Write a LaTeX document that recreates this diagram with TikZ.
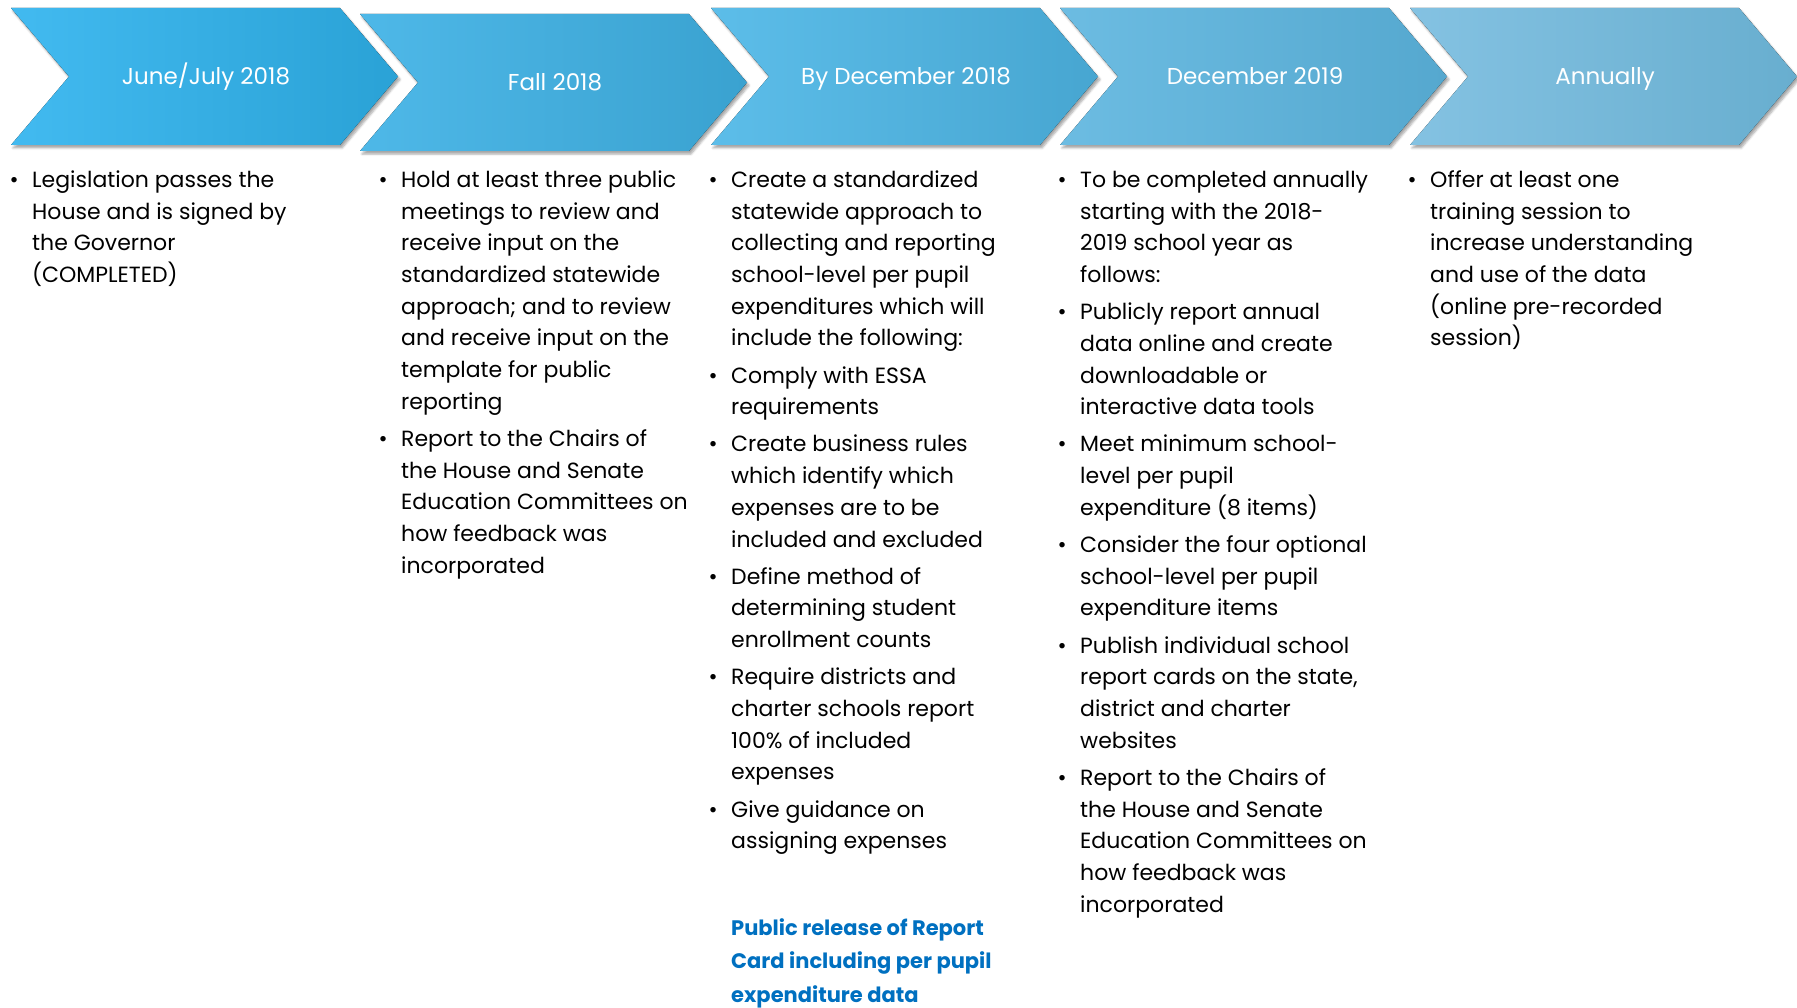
\documentclass[tikz,border=0pt]{standalone}
\usepackage{fontspec}
\setmainfont{Poppins}
\usetikzlibrary{shadows.blur}
\definecolor{chevAa}{HTML}{42BAF0}
\definecolor{chevAb}{HTML}{2AA2D6}
\definecolor{chevBa}{HTML}{4EB8E8}
\definecolor{chevBb}{HTML}{3AA2D0}
\definecolor{chevCa}{HTML}{5CBDE9}
\definecolor{chevCb}{HTML}{47A6D1}
\definecolor{chevDa}{HTML}{6CBCE2}
\definecolor{chevDb}{HTML}{55A8CF}
\definecolor{chevEa}{HTML}{84C2E2}
\definecolor{chevEb}{HTML}{68AECF}
\definecolor{releaseblue}{HTML}{0070C0}
\newcommand\bul{\makebox[36pt][c]{\textbullet}}

\begin{document}
\begin{tikzpicture}[x=1pt, y=-1pt,
  chev/.style={blur shadow={shadow xshift=2pt, shadow yshift=-3pt,
                            shadow blur steps=5, shadow opacity=35}},
  head/.style={text=white, inner sep=0pt, anchor=base, font=\fontsize{23}{26}\selectfont},
  col/.style={anchor=north west, inner sep=0pt, font=\fontsize{22}{31.7}\selectfont},
  release/.style={anchor=north west, inner sep=0pt, text=releaseblue,
                  font=\fontsize{21}{33.5}\selectfont\bfseries}]
\useasboundingbox (0,0) rectangle (1797,1008);

\foreach \x/\y/\lc/\rc/\nm/\txt in {11/8/chevAa/chevAb/june/{June/July 2018},
                                 360/14/chevBa/chevBb/fall/{Fall 2018},
                                 711/8/chevCa/chevCb/bydec/{By December 2018},
                                 1060/8/chevDa/chevDb/dec/{December 2019},
                                 1410/8/chevEa/chevEb/annual/{Annually}}
{
  \fill[chev, left color=\lc, right color=\rc]
    (\x,\y) -- ++(329,0) -- ++(58,68.5) -- ++(-58,68.5) -- ++(-329,0)
    -- ++(58,-68.5) -- cycle;
  \node[head] (\nm) at (\x+195,\y+77) {\txt};
}

\node[col] (c1) at (-4,165) {\begin{tabular}{@{}l@{}l@{}}
\bul & Legislation passes the\\
     & House and is signed by\\
     & the Governor\\
     & (COMPLETED)
\end{tabular}};

\node[col] (c2) at (365,165) {\begin{tabular}{@{}l@{}l@{}}
\bul & Hold at least three public\\
     & meetings to review and\\
     & receive input on the\\
     & standardized statewide\\
     & approach; and to review\\
     & and receive input on the\\
     & template for public\\
     & reporting\\[5.5pt]
\bul & Report to the Chairs of\\
     & the House and Senate\\
     & Education Committees on\\
     & how feedback was\\
     & incorporated
\end{tabular}};

\node[col] (c3) at (695,165) {\begin{tabular}{@{}l@{}l@{}}
\bul & Create a standardized\\
     & statewide approach to\\
     & collecting and reporting\\
     & school-level per pupil\\
     & expenditures which will\\
     & include the following:\\[5.5pt]
\bul & Comply with ESSA\\
     & requirements\\[5.5pt]
\bul & Create business rules\\
     & which identify which\\
     & expenses are to be\\
     & included and excluded\\[5.5pt]
\bul & Define method of\\
     & determining student\\
     & enrollment counts\\[5.5pt]
\bul & Require districts and\\
     & charter schools report\\
     & 100\% of included\\
     & expenses\\[5.5pt]
\bul & Give guidance on\\
     & assigning expenses
\end{tabular}};

\node[release] (pub) at (731,911.5) {\begin{tabular}{@{}l@{}}
Public release of Report\\
Card including per pupil\\
expenditure data
\end{tabular}};

\node[col] (c4) at (1044,165) {\begin{tabular}{@{}l@{}l@{}}
\bul & To be completed annually\\
     & starting with the 2018-\\
     & 2019 school year as\\
     & follows:\\[5.5pt]
\bul & Publicly report annual\\
     & data online and create\\
     & downloadable or\\
     & interactive data tools\\[5.5pt]
\bul & Meet minimum school-\\
     & level per pupil\\
     & expenditure (8 items)\\[5.5pt]
\bul & Consider the four optional\\
     & school-level per pupil\\
     & expenditure items\\[5.5pt]
\bul & Publish individual school\\
     & report cards on the state,\\
     & district and charter\\
     & websites\\[5.5pt]
\bul & Report to the Chairs of\\
     & the House and Senate\\
     & Education Committees on\\
     & how feedback was\\
     & incorporated
\end{tabular}};

\node[col] (c5) at (1394,165) {\begin{tabular}{@{}l@{}l@{}}
\bul & Offer at least one\\
     & training session to\\
     & increase understanding\\
     & and use of the data\\
     & (online pre-recorded\\
     & session)
\end{tabular}};
\end{tikzpicture}
\end{document}
